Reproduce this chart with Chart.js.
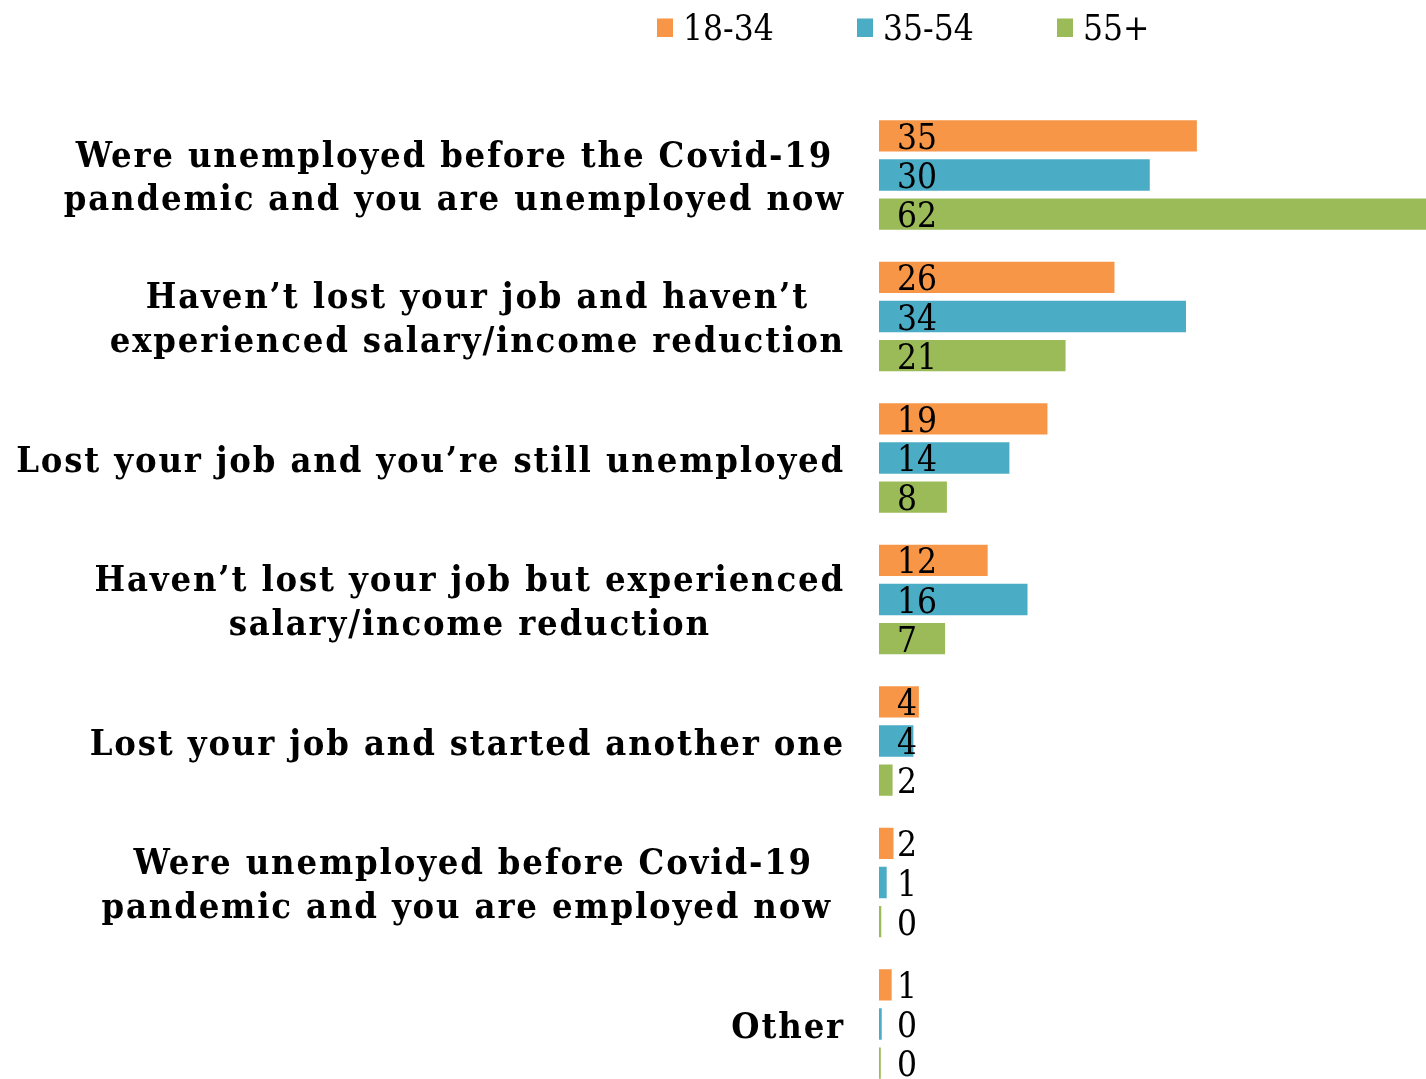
<!DOCTYPE html>
<html><head><meta charset="utf-8">
<script src="https://cdn.jsdelivr.net/npm/chart.js@4.4.1/dist/chart.umd.min.js"></script>
<style>
html,body{margin:0;padding:0;background:#fff;overflow:hidden}
#wrap{position:relative;width:1426px;height:1100px}
</style>
</head><body>
<div id="wrap"><canvas id="c"></canvas></div>
<script>
// ---- data ----
const categories = [
  ["Were unemployed before the Covid-19", "pandemic and you are unemployed now"],
  ["Haven\u2019t lost your job and haven\u2019t", "experienced salary/income reduction"],
  ["Lost your job and you\u2019re still unemployed"],
  ["Haven\u2019t lost your job but experienced", "salary/income reduction"],
  ["Lost your job and started another one"],
  ["Were unemployed before Covid-19", "pandemic and you are employed now "],
  ["Other"]
];
const seriesNames = ["18-34", "35-54", "55+"];
const age18to34 = [35.1, 26.0, 18.6, 12.0, 4.4, 1.6, 1.4];
const age35to54 = [29.9, 33.9, 14.4, 16.4, 3.8, 0.85, 0.3];
const age55plus = [62.0, 20.6, 7.5, 7.3, 1.5, 0.25, 0.2];
const seriesColors = ["#F79646", "#4BACC6", "#9BBB59"];

const seriesData = [age18to34, age35to54, age55plus];

// ---- font selection ----
function hasFont(name) {
  const c = document.createElement('canvas').getContext('2d');
  const s = 'abcdefghijklmnopqrstuvwxyz0123456789';
  c.font = "36px monospace";
  const a = c.measureText(s).width;
  c.font = "36px '" + name + "', monospace";
  const b = c.measureText(s).width;
  return Math.abs(a - b) > 0.5;
}
const condensed = hasFont('DejaVu Serif Condensed');
const CAT_FONT = condensed ? "bold 36px 'DejaVu Serif Condensed'" : "bold 40px 'Liberation Serif'";
const VAL_FONT = condensed ? "35px 'DejaVu Serif Condensed'" : "38px 'Liberation Serif'";
const LEG_FONT = VAL_FONT;

const customDraw = {
  id: 'customDraw',
  afterDatasetsDraw(chart) {
    const ctx = chart.ctx;
    const xs = chart.scales.x;
    ctx.save();
    ctx.font = VAL_FONT;
    ctx.fillStyle = '#000';
    ctx.textAlign = 'left';
    ctx.textBaseline = 'alphabetic';
    chart.data.datasets.forEach((ds, di) => {
      const meta = chart.getDatasetMeta(di);
      meta.data.forEach((bar, i) => {
        ctx.fillText(String(Math.round(ds.data[i])), xs.getPixelForValue(0) + 18, bar.y + 13);
      });
    });
    ctx.restore();
  },
  afterDraw(chart) {
    const ctx = chart.ctx;
    const ys = chart.scales.y;
    ctx.save();
    // category labels
    ctx.font = CAT_FONT;
    ctx.fillStyle = '#000';
    ctx.letterSpacing = '0px';
    let longest = '';
    categories.forEach(lines => lines.forEach(l => { if (l.length > longest.length) longest = l; }));
    const w0 = ctx.measureText(longest).width;
    const sp = (829 - w0) / longest.length;
    ctx.letterSpacing = sp.toFixed(2) + 'px';
    ctx.textBaseline = 'alphabetic';
    ctx.textAlign = 'center';
    const rightEdge = 845;
    const lh = 43.5;
    categories.forEach((lines, i) => {
      const cy = ys.getPixelForValue(i);
      const maxW = Math.max(...lines.map(l => ctx.measureText(l).width));
      const cx = rightEdge - maxW / 2;
      lines.forEach((l, k) => {
        const by = cy + 13.5 + (k - (lines.length - 1) / 2) * lh;
        ctx.fillText(l, cx, by);
      });
    });
    // legend
    ctx.letterSpacing = '0px';
    ctx.font = LEG_FONT;
    ctx.textAlign = 'left';
    chart.data.datasets.forEach((ds, di) => {
      const bx = 657 + di * 200;
      ctx.fillStyle = ds.backgroundColor;
      ctx.fillRect(bx, 18.5, 16, 18.5);
      ctx.fillStyle = '#000';
      ctx.fillText(ds.label, bx + 26, 40);
    });
    ctx.restore();
  }
};

new Chart(document.getElementById('c'), {
  type: 'bar',
  data: {
    labels: categories,
    datasets: seriesNames.map((n, i) => ({
      label: n,
      data: seriesData[i],
      backgroundColor: seriesColors[i],
      borderWidth: 0,
      categoryPercentage: 0.831,
      barPercentage: 0.80
    }))
  },
  options: {
    indexAxis: 'y',
    responsive: true,
    maintainAspectRatio: false,
    animation: false,
    devicePixelRatio: 1,
    layout: { padding: { top: 104.25, bottom: 5.25, left: 0, right: 0 } },
    plugins: { legend: { display: false }, tooltip: { enabled: false } },
    scales: {
      x: { display: false, min: 0, max: 60.4 },
      y: {
        grid: { display: false },
        border: { display: false },
        ticks: { display: false },
        afterFit(scale) { scale.width = 879; }
      }
    }
  },
  plugins: [customDraw]
});
</script>
</body></html>
